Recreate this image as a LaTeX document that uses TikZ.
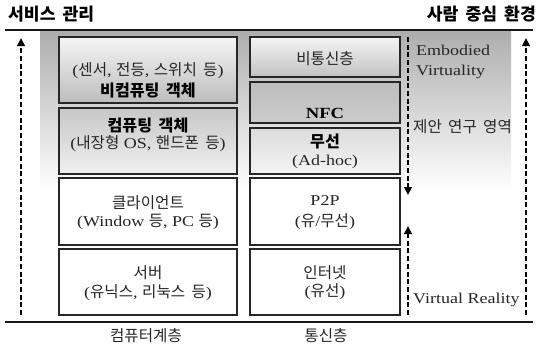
\documentclass[tikz,border=0pt]{standalone}
\usepackage{fontspec}
\setmainfont{Liberation Serif}[FakeStretch=1.2]
\newfontfamily\krf{Noto Sans CJK KR}[WordSpace=1.8, Scale=1.04]
\newcommand\hk[1]{{\krf #1}}
\usetikzlibrary{arrows.meta}
\tikzset{
  box/.style={draw=black!85, line width=1.2pt, inner sep=0pt},
  txt/.style={inner sep=0pt, text=black!85, font=\fontsize{15}{18}\selectfont},
  btxt/.style={inner sep=0pt, text=black, font=\fontsize{15.5}{18}\selectfont\bfseries},
  head/.style={inner sep=0pt, text=black, font=\fontsize{16.5}{19}\selectfont\bfseries},
  dashy/.style={line width=2.1pt, dash pattern=on 5pt off 2.7pt, black},
  tip/.style={-{Triangle[length=8pt,width=7.5pt]}},
  rule/.style={line width=1.8pt, black!90}
}
\begin{document}
\begin{tikzpicture}[x=1pt,y=-1pt]
\useasboundingbox (0,0) rectangle (538,357);
% background gradient region
\shade[top color=black!32, bottom color=white] (40,31) rectangle (511,190);
% horizontal rules
\coordinate (rtl) at (5,30); \coordinate (rtr) at (533,30);
\coordinate (rbl) at (5,322); \coordinate (rbr) at (533,322);
\draw[rule] (rtl) -- (rtr);
\draw[rule] (rbl) -- (rbr);
% headers
\node[head, anchor=west] (hl) at (8,14) {\hk{서비스 관리}};
\node[head, anchor=east] (hr) at (536,14) {\hk{사람 중심 환경}};
% left column boxes
\node[box, top color=black!4, bottom color=black!26, minimum width=178pt, minimum height=66pt] (b1) at (148,70) {};
\node[box, top color=black!22, bottom color=black!6, minimum width=178pt, minimum height=66pt] (b2) at (148,141) {};
\node[box, fill=white, minimum width=178pt, minimum height=67pt] (b3) at (148,211.5) {};
\node[box, fill=white, minimum width=178pt, minimum height=66pt] (b4) at (148,282) {};
% right column boxes
\node[box, top color=black!4, bottom color=black!24, minimum width=150pt, minimum height=40pt] (ba) at (325,57) {};
\node[box, top color=black!26, bottom color=black!20, minimum width=150pt, minimum height=41pt] (bb) at (325,102.5) {};
\node[box, top color=black!14, bottom color=black!4, minimum width=150pt, minimum height=46pt] (bc) at (325,151) {};
\node[box, fill=white, minimum width=150pt, minimum height=67pt] (bd) at (325,211.5) {};
\node[box, fill=white, minimum width=150pt, minimum height=66pt] (be) at (325,282) {};
% texts in boxes
\node[txt] (t1a) at (148,71) {(\hk{센서}, \hk{전등}, \hk{스위치 등})};
\node[btxt] (t1b) at (148,90) {\hk{비컴퓨팅 객체}};
\node[btxt] (t2a) at (148,125) {\hk{컴퓨팅 객체}};
\node[txt] (t2b) at (148,144) {(\hk{내장형} OS, \hk{핸드폰 등})};
\node[txt] (t3a) at (148,203) {\hk{클라이언트}};
\node[txt] (t3b) at (148,222) {(Window \hk{등}, PC \hk{등})};
\node[txt] (t4a) at (148,273) {\hk{서버}};
\node[txt] (t4b) at (148,293) {(\hk{유닉스}, \hk{리눅스 등})};
\node[txt] (ta) at (325,59) {\hk{비통신층}};
\node[btxt] (tb) at (325,113) {NFC};
\node[btxt] (tc1) at (325,141) {\hk{무선}};
\node[txt] (tc2) at (325,162) {(Ad-hoc)};
\node[txt] (td1) at (325,201) {P2P};
\node[txt] (td2) at (325,222) {(\hk{유}/\hk{무선})};
\node[txt] (te1) at (325,273) {\hk{인터넷}};
\node[txt] (te2) at (325,292) {(\hk{유선})};
% right side labels
\node[txt, anchor=west] (emb) at (416,50) {Embodied};
\node[txt, anchor=west] (vir) at (416,72) {Virtuality};
\node[txt, anchor=west] (pro) at (413,127) {\hk{제안 연구 영역}};
\node[txt, anchor=west] (vr) at (413,300) {Virtual Reality};
% bottom labels
\node[txt] (lc) at (146,336) {\hk{컴퓨터계층}};
\node[txt] (lt) at (326,336) {\hk{통신층}};
% dashed arrows
\coordinate (lb) at (21,315); \coordinate (lt0) at (21,38);
\coordinate (rb) at (526,315); \coordinate (rt0) at (526,38);
\coordinate (mt) at (408,37); \coordinate (mm1) at (408,195);
\coordinate (mb) at (408,315); \coordinate (mm2) at (408,226);
\draw[dashy, tip] (lb) -- (lt0);
\draw[dashy, tip] (rb) -- (rt0);
\draw[dashy, tip] (mt) -- (mm1);
\draw[dashy, tip] (mb) -- (mm2);
\end{tikzpicture}
\end{document}
